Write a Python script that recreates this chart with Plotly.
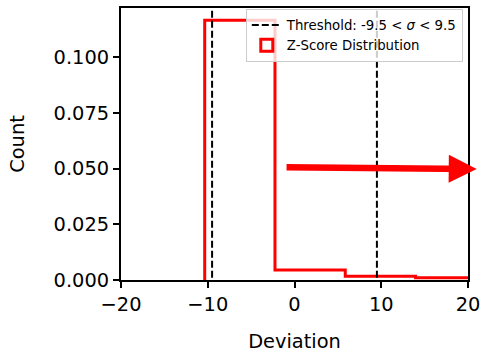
import plotly.graph_objects as go

# Histogram of z-score deviations (probability density), read as bin edges + heights
bin_edges = [-10.35, -2.25, 5.85, 13.95, 22.05]
densities = [0.1166, 0.0045, 0.0017, 0.0010]

# Threshold bounds
threshold_low = -9.5
threshold_high = 9.5

x_ticks = [-20, -10, 0, 10, 20]
y_ticks = [0.0, 0.025, 0.05, 0.075, 0.1]
x_range = [-20, 20]
y_range = [0, 0.1221]

# Arrow (tail -> head) in data coordinates
arrow_tail = (-1.09, 0.0506)
arrow_head = (21.0, 0.0498)

FONT = "DejaVu Sans"
RED = "#ff0000"
TICK_SIZE = 19.4
LEGEND_SIZE = 13.3

# step outline: start at baseline, climb, walk each bin, drop back to baseline
step_x = [bin_edges[0]] + bin_edges
step_y = [0] + densities + [0]

fig = go.Figure()

fig.add_trace(go.Scatter(
    x=step_x, y=step_y, mode="lines",
    line=dict(color=RED, width=3, shape="hv"),
    showlegend=False, hoverinfo="skip",
))

# legend entry for the histogram (outlined box)
fig.add_trace(go.Bar(
    x=[None], y=[None], name="Z-Score Distribution",
    marker=dict(color="rgba(0,0,0,0)", line=dict(color=RED, width=3)),
    legendrank=2,
))

fig.add_trace(go.Scatter(
    x=[threshold_low, threshold_low, None, threshold_high, threshold_high],
    y=[-1, 1, None, -1, 1],
    mode="lines",
    line=dict(color="black", width=2, dash="7px,3px"),
    name="Threshold: -9.5 &lt; <i>σ</i> &lt; 9.5",
    legendrank=1,
))

axis_common = dict(
    showgrid=False, zeroline=False, automargin=False,
    showline=True, linecolor="black", linewidth=2, mirror=True,
    ticks="outside", ticklen=6, tickwidth=2, tickcolor="black",
    tickfont=dict(family=FONT, size=TICK_SIZE, color="black"),
)

inner_ticks = dict(
    ticks="inside", ticklen=6, tickwidth=2, tickcolor="black", automargin=False,
    showticklabels=False, showgrid=False, zeroline=False, showline=False,
)

fig.update_layout(
    width=481, height=353,
    margin=dict(l=121, r=13, t=8, b=73, autoexpand=False),
    paper_bgcolor="white", plot_bgcolor="white",
    font=dict(family=FONT, size=TICK_SIZE, color="black"),
    xaxis=dict(
        range=x_range, tickvals=x_ticks,
        title=dict(text="Deviation", font=dict(family=FONT, size=TICK_SIZE), standoff=25),
        **axis_common,
    ),
    yaxis=dict(
        range=y_range, tickvals=y_ticks, tickformat=".3f",
        title=dict(text="Count", font=dict(family=FONT, size=TICK_SIZE), standoff=24),
        **axis_common,
    ),
    # inward half of the crossing tick marks
    xaxis2=dict(overlaying="x", anchor="y", side="bottom",
                range=x_range, tickvals=x_ticks, **inner_ticks),
    yaxis2=dict(overlaying="y", anchor="x", side="left",
                range=y_range, tickvals=y_ticks, **inner_ticks),
    legend=dict(
        x=0.985, y=0.997, xanchor="right", yanchor="top",
        bgcolor="rgba(255,255,255,0.8)", bordercolor="#cccccc", borderwidth=1,
        font=dict(family=FONT, size=LEGEND_SIZE, color="black"),
    ),
    showlegend=True,
    annotations=[dict(
        x=arrow_head[0], y=arrow_head[1], xref="x", yref="y",
        ax=arrow_tail[0], ay=arrow_tail[1], axref="x", ayref="y",
        text="", showarrow=True,
        arrowhead=2, arrowsize=0.86, arrowwidth=6.5, arrowcolor=RED,
    )],
)

fig.write_html("out.html")
